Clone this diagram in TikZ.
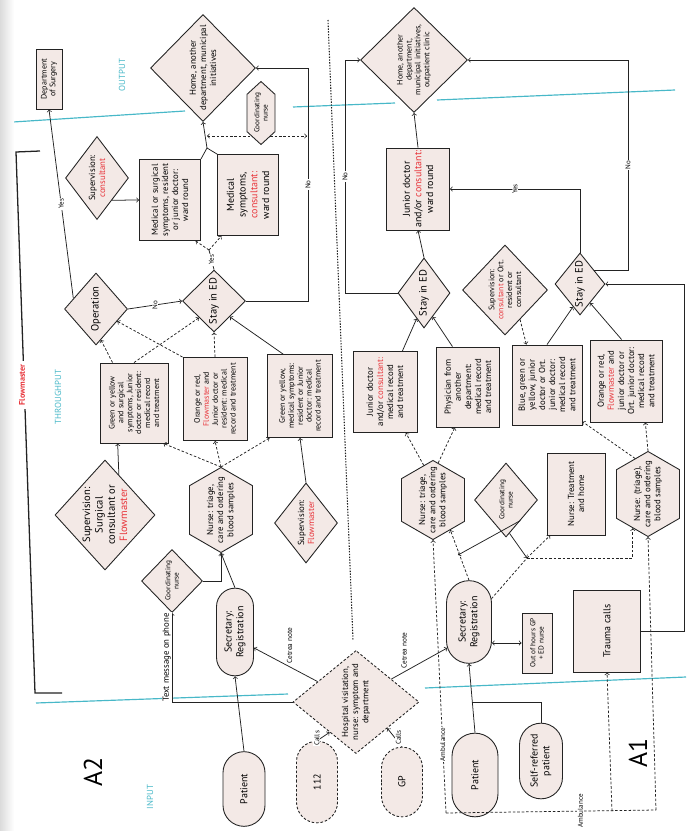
\documentclass[tikz,border=0pt]{standalone}
\usepackage{fontspec}
\setmainfont{PT Sans}
\usetikzlibrary{calc, shapes, backgrounds}

\definecolor{nodefill}{RGB}{243,233,230}
\definecolor{linegray}{RGB}{35,35,35}
\definecolor{fmred}{RGB}{232,52,58}
\definecolor{zonecyan}{RGB}{72,184,200}

\newcommand{\fm}[1]{\textcolor{fmred}{#1}}
\newcommand{\fntX}{\fontsize{9}{10.5}\selectfont}
\newcommand{\fntL}{\fontsize{8.5}{10}\selectfont}
\newcommand{\fntM}{\fontsize{7.5}{8.6}\selectfont}
\newcommand{\fntS}{\fontsize{6.8}{7.6}\selectfont}
\newcommand{\fntT}{\fontsize{6.2}{7}\selectfont}

\tikzset{
  base/.style={draw=linegray, fill=nodefill, line width=0.75pt, rotate=90, align=center, inner sep=1pt},
  sz/.style 2 args={minimum width=#1*0.3mm, minimum height=#2*0.3mm},
  box/.style={base, rectangle},
  dia/.style={base, diamond, inner sep=-4pt},
  hexa/.style={base, signal, signal to=east and west, signal pointer angle=120, inner xsep=-10pt, inner ysep=0pt},
  term/.style={base, rounded rectangle},
  con/.style={draw=linegray, line width=0.65pt, ->},
  dsh/.style={dash pattern=on 2.2pt off 1.6pt},
  lbl/.style={fill=white, inner sep=0.8pt, rotate=90, font=\fontsize{6}{7}\selectfont},
  zone/.style={text=zonecyan, font=\fontsize{7.5}{9}\selectfont, rotate=90}
}

\begin{document}
\begin{tikzpicture}[x=0.3mm, y=-0.3mm]
\useasboundingbox (0,0) rectangle (686,831);
\fill[left color=black!14, right color=white] (0,0) rectangle (14,831);

% A2 -- output side
\node[box, sz={60}{26}, font=\fontsize{6.8}{7.6}\selectfont] (dsurg) at (49,79) {Department\\of Surgery};
\node[dia, sz={107}{105}, font=\fntM] (home2) at (203,68) {Home, another\\department, municipal\\initiatives};
\node[dia, sz={83}{63}, font=\fntM] (sup2) at (97,178) {Supervision:\\\fm{consultant}};
\node[box, sz={81}{61}, font=\fntM] (ward2a) at (170,200) {Medical or surgical\\symptoms, resident\\or junior doctor:\\ward round};
\node[box, sz={81}{61}, font=\fntL] (ward2b) at (248,195) {Medical\\symptoms,\\\fm{consultant:}\\ward round};
\node[hexa, sz={63}{28}, signal pointer angle=95, font=\fntT] (coord2) at (261,113) {Coordinating\\nurse};

% A2 -- throughput
\node[dia, sz={72}{63}, font=\fntX] (oper) at (96,309) {Operation};
\node[dia, sz={62}{63}, font=\fntX] (stay2) at (214,301) {Stay in ED};
\node[box, sz={80}{68}, font=\fntS] (gs2) at (134,403) {Green or yellow\\and surgical\\symptoms, Junior\\doctor or resident:\\medical record\\and treatment};
\node[box, sz={83}{64}, font=\fntS] (or2) at (215,399) {Orange or red,\\\fm{Flowmaster} and\\Junior doctor or\\resident: medical\\record and treatment};
\node[box, sz={83}{65}, font=\fntS] (gm2) at (300,396) {Green or yellow,\\medical symptoms:\\resident or Junior\\doctor: medical\\record and treatment};
\node[dia, sz={110}{100}, font=\fntX] (supsurg) at (105,515) {Supervision:\\Surgical\\consultant or\\\fm{Flowmaster}};
\node[hexa, sz={85}{63}, font=\fntM] (tri2) at (221,510) {Nurse: triage,\\care and ordering\\blood samples};
\node[dia, sz={80}{63}, font=\fntM] (supfm) at (306,523) {Supervision:\\\fm{Flowmaster}};

% A2 -- input side
\node[dia, sz={63}{61}, font=\fntT] (coordA) at (172,581) {Coordinating\\nurse};
\node[term, sz={90}{37}, font=\fntL] (sec2) at (235,632) {Secretary:\\Registration};
\node[dia, dsh, sz={103}{126}, font=\fntM] (hosp) at (356,702) {Hospital visitation,\\nurse: symptom and\\department};
\node[term, sz={77}{42}, font=\fntL] (pat2) at (244,789) {Patient};
\node[term, dsh, sz={84}{41}, font=\fntL] (c112) at (317,782) {112};
\node[term, dsh, sz={72}{41}, font=\fntL] (gp) at (402,782) {GP};

% A1
\node[dia, sz={105}{107}, font=\fntS] (home1) at (414,60) {Home, another\\department,\\municipal initiatives,\\outpatient clinic};
\node[box, sz={82}{63}, font=\fntL] (ward1) at (418,189) {Junior doctor\\and/or \fm{consultant:}\\ward round};
\node[dia, sz={70}{52}, font=\fntX] (stay1a) at (424,293) {Stay in ED};
\node[dia, sz={90}{85}, font=\fntS] (sup1) at (505,290) {Supervision:\\\fm{consultant} or Ort.\\resident or\\consultant};
\node[dia, sz={62}{50}, font=\fntX] (stay1b) at (580,284) {Stay in ED};
\node[box, sz={81}{64}, font=\fntM] (jd1) at (385,392) {Junior doctor\\and/or \fm{consultant:}\\medical record\\and treatment};
\node[box, sz={80}{63}, font=\fntM] (phys1) at (468,387) {Physician from\\another\\department:\\medical record\\and treatment};
\node[box, sz={80}{70}, font=\fntM] (bgy1) at (547,385) {Blue, green or\\yellow, junior\\doctor or Ort.\\junior doctor:\\medical record\\and treatment};
\node[box, sz={82}{72}, font=\fntM] (or1) at (626,381) {Orange or red,\\\fm{Flowmaster} and\\junior doctor or\\Ort. junior doctor:\\medical record\\and treatment};
\node[hexa, sz={76}{63}, font=\fntM] (tri1a) at (433,500) {Nurse: triage,\\care and ordering\\blood samples};
\node[dia, sz={74}{63}, font=\fntT] (coord1) at (506,500) {Coordinating\\nurse};
\node[box, sz={82}{58}, font=\fntM] (treat1) at (576,494) {Nurse: Treatment\\and home};
\node[hexa, sz={85}{63}, font=\fntM] (tri1b) at (648,494) {Nurse: (triage),\\care and ordering\\blood samples};
\node[term, sz={85}{45}, font=\fntL] (sec1) at (469,622) {Secretary:\\Registration};
\node[box, sz={60}{30}, font=\fntT] (ooh) at (537,643) {Out of hours GP\\+ ED nurse};
\node[box, sz={82}{67}, font=\fntL] (trauma) at (607,631) {Trauma calls};
\node[term, sz={86}{46}, font=\fntL] (pat1) at (475,775) {Patient};
\node[term, sz={78}{43}, font=\fntL] (selfref) at (541,761) {Self-referred\\patient};

% zones and headings
\node[zone] (zout) at (122,75) {OUTPUT};
\node[zone] (zthr) at (58,397) {THROUGHPUT};
\node[zone] (zin) at (150,797) {INPUT};
\node[rotate=90, font=\fontsize{22}{24}\selectfont] (a2) at (93,772) {A2};
\node[rotate=90, font=\fontsize{22}{24}\selectfont] (a1) at (638,753) {A1};
\draw[linegray, line width=1.1pt] (40,151) -- (16,152) -- (35,693) -- (62,693);
\node[rotate=90, fill=white, text=fmred, font=\bfseries\fontsize{7}{8}\selectfont] (fmlab) at (22,385) {Flowmaster};

\coordinate (ysplit) at (209,250);
\coordinate (mrg) at (207,148);
\coordinate (cn2l) at (207,136);
\coordinate (cn2r) at (307,136);
\coordinate (jp) at (472,702);
\coordinate (cw) at (458,555);
\coordinate (jn) at (527,558);
\coordinate (ambL) at (446,813);
\coordinate (ambT) at (612,811);
\coordinate (ambR) at (656,810);

\begin{scope}[on background layer]
  \draw[zonecyan, line width=1pt] (13,122) -- (185,111);
  \draw[zonecyan, line width=1pt] (293,107) -- (395,103);
  \draw[zonecyan, line width=1pt] (437,100) -- (675,90);
  \draw[zonecyan, line width=1pt] (36,703) -- (288,694);
  \draw[zonecyan, line width=1pt] (425,688) -- (686,677);
  \draw[linegray, line width=0.9pt, dash pattern=on 1.2pt off 1.2pt] (328,20) -- (353,640);
  \draw[con, dsh, <->] (cn2l) -- (cn2r);
\end{scope}

% A2 connectors
\draw[con] (oper.65) -- node[lbl]{Yes} (dsurg.west);
\draw[con] (oper.south) -- node[lbl]{No} (stay2.north);
\draw[draw=linegray, line width=0.65pt] (stay2.east) -- node[lbl]{Yes} (ysplit);
\draw[con, dsh] (ysplit) -- (ward2a.212);
\draw[con, dsh] (ysplit) -- (ward2b.147);
\draw[draw=linegray, line width=0.65pt] (ward2a.south east) -- (mrg) -- (ward2b.north east);
\draw[con] (mrg) -- (home2.west);
\draw[con] (stay2.south) -| node[lbl, pos=0.75]{No} (308,68) -- (home2.south);
\draw[con] (sup2.214) -- (ward2a.north);
\draw[con, dsh] (gs2.28) -- (oper.189);
\draw[con, dsh] (gs2.east) -- (stay2.138);
\draw[con, dsh] (or2.north east) -- (oper.240);
\draw[con, dsh] (or2.east) -- (stay2.west);
\draw[con] (gm2.22) -- (stay2.225);
\draw[con, dsh] (tri2.east) -- (gs2.216);
\draw[con, dsh] (tri2.east) -- (or2.west);
\draw[con, dsh] (tri2.east) -- (gm2.144);
\draw[con] (supsurg.341) -- (gs2.158);
\draw[con] (supfm.east) -- (gm2.west);
\draw[con] (pat2.east) -- (sec2.west);
\draw[con] (sec2.east) -- (tri2.west);
\draw[con] (coordA.south) -| (tri2.west);
\draw[con] (hosp.62) -- node[lbl, anchor=north west, font=\fntT]{Cetrea note} (sec2.230);
\draw[con] (hosp.north) -| node[lbl, pos=0.75, anchor=south, font=\fntM]{Text message on phone} (coordA.west);
\draw[con] (c112.east) -- node[lbl, pos=0.3, anchor=south]{Calls} (hosp.139);
\draw[con] (gp.east) -- node[lbl, anchor=north]{Calls} (hosp.230);

% A1 connectors
\draw[con] (ward1.east) -- (home1.west);
\draw[con] (stay1a.east) -- (ward1.west);
\draw[con] (stay1a.north) -| node[lbl, pos=0.75]{No} (345,60) -- (home1.north);
\draw[con] (jd1.337) -- (stay1a.164);
\draw[con] (phys1.21) -- (stay1a.200);
\draw[con, dsh] (tri1a.15) -- (jd1.207);
\draw[con, dsh] (tri1a.352) -- (phys1.162);
\draw[con, dsh] (sup1.207) -- (bgy1.27);
\draw[con] (bgy1.east) -- (stay1b.163);
\draw[con] (or1.6) -- (stay1b.208);
\draw[con] (stay1b.east) |- node[lbl, pos=0.75]{Yes} (ward1.south);
\draw[con] (stay1b.315) -| node[lbl, pos=0.75]{No} (628,60) -- (home1.south);
\draw[con] (trauma.south) -| (684,284) -- (stay1b.south);
\draw[con, dsh] (tri1b.east) -- (or1.205);
\draw[con, dsh] (tri1b.20) -- (bgy1.224);
\draw[con] (pat1.east) -- (sec1.west);
\draw[draw=linegray, line width=0.65pt] (selfref.east) |- (jp);
\draw[con, <->] (sec1.south |- ooh.north) -- (ooh.north);
\draw[con] (hosp.303) -- node[lbl, pos=0.3, anchor=south west, font=\fntT]{Cetrea note} (sec1.140);
\draw[con, dsh] (sec1.east) -- (tri1a.210);
\draw[con] (coord1.215) -- (cw);
\draw[draw=linegray, dsh, line width=0.65pt] (sec1.316) -- (jn);
\draw[con] (coord1.186) -- (jn);
\draw[con, dsh] (jn) -- (treat1.148);
\draw[con, dsh] (jn) -| (tri1b.156);
\draw[con, dsh] (ambL) -- node[lbl, pos=0.25]{Ambulance} (tri1a.west);
\draw[draw=linegray, dsh, line width=0.65pt] (ambL) -- node[lbl, pos=0.64]{Ambulance} (ambR);
\draw[con, dsh] (ambT) -- (trauma.west);
\draw[con, dsh] (ambR) -- (tri1b.west);
\end{tikzpicture}
\end{document}
